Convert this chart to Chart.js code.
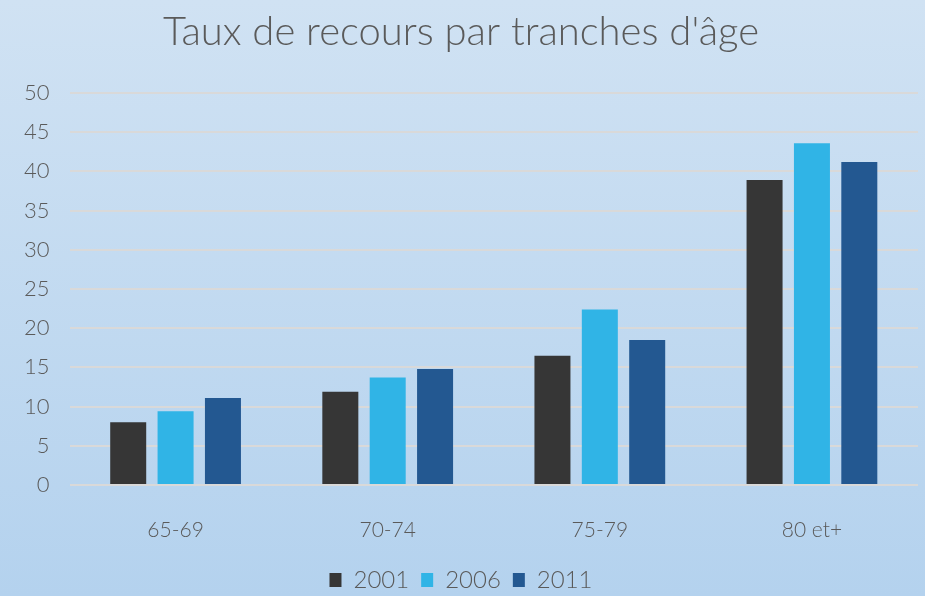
<!DOCTYPE html>
<html>
<head>
<meta charset="utf-8">
<script src="https://cdn.jsdelivr.net/npm/chart.js@4"></script>
<style>
  html, body { margin: 0; padding: 0; }
  body { width: 925px; height: 596px; background: linear-gradient(#d0e2f3, #b4d2ee); overflow: hidden; }
  #wrap { width: 925px; height: 596px; }
</style>
</head>
<body>
<div id="wrap"><canvas id="chart"></canvas></div>
<script>
// categories et valeurs
const categories = ["65-69", "70-74", "75-79", "80 et+"];
const years = ["2001", "2006", "2011"];
const v2001 = [8.0, 11.9, 16.5, 38.9];
const v2006 = [9.4, 13.7, 22.4, 43.6];
const v2011 = [11.1, 14.8, 18.5, 41.2];
const colors = ["#363636", "#30b4e6", "#235891"];

const fontFamily = "Lato, 'Open Sans', sans-serif";
const textColor = "#5a5a5a";

new Chart(document.getElementById("chart"), {
  type: "bar",
  data: {
    labels: categories,
    datasets: [v2001, v2006, v2011].map((d, i) => ({
      label: years[i],
      data: d,
      backgroundColor: colors[i],
      categoryPercentage: 0.67,
      barPercentage: 0.76
    }))
  },
  options: {
    responsive: true,
    maintainAspectRatio: false,
    animation: false,
    layout: { padding: { left: 4, right: 7, top: 0, bottom: -6 } },
    plugins: {
      title: {
        display: true,
        text: "Taux de recours par tranches d'âge",
        color: textColor,
        font: { family: fontFamily, size: 40, weight: "300" },
        padding: { top: 8, bottom: 37 }
      },
      legend: {
        position: "bottom",
        labels: {
          color: textColor,
          font: { family: fontFamily, size: 24, weight: "300" },
          boxWidth: 12,
          boxHeight: 14,
          padding: 12
        }
      },
      tooltip: { enabled: false }
    },
    scales: {
      x: {
        grid: { display: false },
        border: { display: false },
        ticks: { color: textColor, font: { family: fontFamily, size: 21, weight: "300" }, padding: 25 },
        afterFit: (scale) => { scale.height = 71; }
      },
      y: {
        min: 0,
        max: 50,
        ticks: { stepSize: 5, color: textColor, font: { family: fontFamily, size: 22, weight: "300" }, padding: 20 },
        grid: { color: "#d9d9d9", lineWidth: 2, drawTicks: false },
        border: { display: false }
      }
    }
  }
});
</script>
</body>
</html>
